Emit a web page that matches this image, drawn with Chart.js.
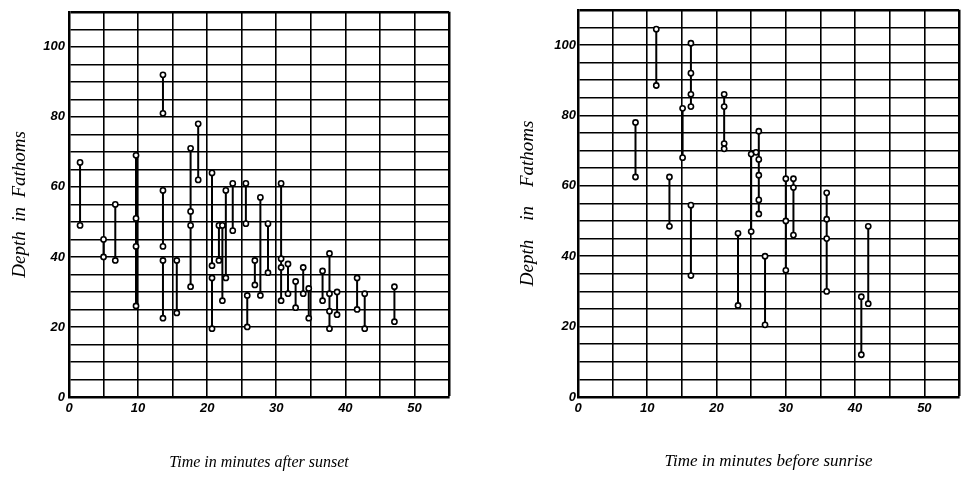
<!DOCTYPE html>
<html>
<head>
<meta charset="utf-8">
<script src="https://cdn.jsdelivr.net/npm/chart.js@4.4.0/dist/chart.umd.min.js"></script>
<style>
  html, body { margin: 0; padding: 0; background: #fff; }
  body { width: 965px; height: 493px; position: relative; overflow: hidden; }
  .panel { position: absolute; top: 0; height: 493px; }
  #leftPanel { left: 0; width: 470px; }
  #rightPanel { left: 500px; width: 465px; }
</style>
</head>
<body>
<div class="panel" id="leftPanel"><canvas id="sunsetChart"></canvas></div>
<div class="panel" id="rightPanel"><canvas id="sunriseChart"></canvas></div>
<script>
// Tick labels shown on both panels
const xTickLabels = [0, 10, 20, 30, 40, 50];
const yTickLabels = [0, 20, 40, 60, 80, 100];

// Left panel: minutes after sunset, depth range (fathoms) of each observation
const sunsetX    = [1.6, 5.0, 6.7, 9.7, 13.6, 13.6, 13.6, 15.6, 17.6, 18.7, 20.7, 20.7, 21.7, 22.2, 22.7, 23.7, 25.6, 25.8, 26.9, 27.7, 28.8, 30.7, 31.7, 32.8, 33.9, 34.7, 36.7, 37.7, 38.8, 41.7, 42.8, 47.1];
const sunsetHigh = [67, 45, 55, 69, 92, 59, 39, 39, 71, 78, 64, 34, 49, 49, 59, 61, 61, 29, 39, 57, 49.5, 61, 38, 33, 37, 31, 36, 41, 30, 34, 29.5, 31.5];
const sunsetLow  = [49, 40, 39, 26, 81, 43, 22.5, 24, 31.5, 62, 37.5, 19.5, 39, 27.5, 34, 47.5, 49.5, 20, 32, 29, 35.5, 27.5, 29.5, 25.5, 29.5, 22.5, 27.5, 19.5, 23.5, 25, 19.5, 21.5];
const sunsetMidX = [9.7, 9.7, 17.6, 17.6, 30.7, 30.7, 37.7, 37.7];
const sunsetMidY = [51, 43, 53, 49, 39.5, 37, 29.5, 24.5];

// Right panel: minutes before sunrise
const sunriseX    = [8.3, 11.3, 13.2, 15.1, 16.3, 16.3, 21.1, 23.1, 25.0, 26.1, 27.0, 30.0, 31.1, 35.9, 40.9, 41.9];
const sunriseHigh = [78, 104.5, 62.5, 82, 100.5, 54.5, 86, 46.5, 69, 75.5, 40, 62, 62, 58, 28.5, 48.5];
const sunriseLow  = [62.5, 88.5, 48.5, 68, 82.5, 34.5, 70.5, 26, 47, 52, 20.5, 36, 46, 30, 12, 26.5];
const sunriseMidX = [16.3, 16.3, 21.1, 21.1, 25.7, 26.1, 26.1, 26.1, 30.0, 31.1, 35.9, 35.9];
const sunriseMidY = [92, 86, 82.5, 72, 69.5, 67.5, 63, 56, 50, 59.5, 50.5, 45];

function segmentPoints(xs, highs, lows) {
    const pts = [];
    xs.forEach(function (x, i) {
        pts.push({ x: x, y: highs[i] });
        pts.push({ x: x, y: lows[i] });
        pts.push({ x: x, y: null }); // break between segments
    });
    return pts;
}

function circlePoints(xs, highs, lows, midX, midY) {
    const pts = [];
    xs.forEach(function (x, i) {
        pts.push({ x: x, y: highs[i] });
        pts.push({ x: x, y: lows[i] });
    });
    midX.forEach(function (x, i) { pts.push({ x: x, y: midY[i] }); });
    return pts;
}

function makeChart(canvasId, cfg) {
    const xMax = 55, yMax = 110;
    const tickFont = { family: 'Liberation Sans', size: 13, style: 'italic', weight: 'bold' };
    return new Chart(document.getElementById(canvasId), {
        type: 'scatter',
        data: {
            datasets: [{
                data: circlePoints(cfg.xs, cfg.highs, cfg.lows, cfg.midX, cfg.midY),
                showLine: false,
                pointRadius: 2.6,
                pointBackgroundColor: '#fff',
                pointBorderColor: '#000',
                pointBorderWidth: 1.6,
                order: 0
            }, {
                data: segmentPoints(cfg.xs, cfg.highs, cfg.lows),
                showLine: true,
                spanGaps: false,
                borderColor: '#000',
                borderWidth: 2,
                pointRadius: 0,
                order: 1
            }]
        },
        options: {
            responsive: true,
            maintainAspectRatio: false,
            animation: false,
            layout: { padding: { top: cfg.top, right: cfg.right, left: 0, bottom: 0 } },
            plugins: { legend: { display: false }, tooltip: { enabled: false } },
            scales: {
                x: {
                    type: 'linear',
                    min: 0, max: xMax,
                    afterFit: function (scale) { scale.height = 96; },
                    ticks: {
                        stepSize: 5,
                        autoSkip: false,
                        maxRotation: 0,
                        padding: 4,
                        color: '#000',
                        font: tickFont,
                        callback: function (v) { return xTickLabels.includes(v) ? String(v) : ''; }
                    },
                    grid: {
                        drawTicks: false,
                        color: '#000',
                        lineWidth: function (ctx) { return ctx.tick && ctx.tick.value === xMax ? 2.5 : 1.6; }
                    },
                    border: { display: true, color: '#000', width: 2.5 },
                    title: {
                        display: true,
                        text: cfg.xTitle,
                        color: '#000',
                        font: { family: 'Liberation Serif', size: cfg.xTitleSize, style: 'italic' },
                        padding: { top: 4, bottom: 21 }
                    }
                },
                y: {
                    min: 0, max: yMax,
                    afterFit: function (scale) { scale.width = cfg.yWidth; },
                    ticks: {
                        stepSize: 5,
                        autoSkip: false,
                        padding: cfg.yTickPad,
                        color: '#000',
                        font: tickFont,
                        callback: function (v) { return yTickLabels.includes(v) ? String(v) : ''; }
                    },
                    grid: {
                        drawTicks: false,
                        color: '#000',
                        lineWidth: function (ctx) { return ctx.tick && ctx.tick.value === yMax ? 2.5 : 1.6; }
                    },
                    border: { display: true, color: '#000', width: 2.5 },
                    title: {
                        display: true,
                        text: cfg.yTitle,
                        color: '#000',
                        font: { family: 'Liberation Serif', size: 19, style: 'italic' },
                        padding: { top: cfg.yTitlePad, bottom: 0 }
                    }
                }
            }
        }
    });
}

document.addEventListener('DOMContentLoaded', function () {
    makeChart('sunsetChart', {
        xs: sunsetX, highs: sunsetHigh, lows: sunsetLow, midX: sunsetMidX, midY: sunsetMidY,
        top: 8, right: 21, yWidth: 69, yTickPad: 4, yTitlePad: 9,
        xTitle: 'Time in minutes after sunset', xTitleSize: 16,
        yTitle: 'Depth  in  Fathoms'
    });
    makeChart('sunriseChart', {
        xs: sunriseX, highs: sunriseHigh, lows: sunriseLow, midX: sunriseMidX, midY: sunriseMidY,
        top: 6, right: 6, yWidth: 78, yTickPad: 2, yTitlePad: 17,
        xTitle: 'Time in minutes before sunrise', xTitleSize: 17,
        yTitle: 'Depth    in    Fathoms'
    });
});
</script>
</body>
</html>
